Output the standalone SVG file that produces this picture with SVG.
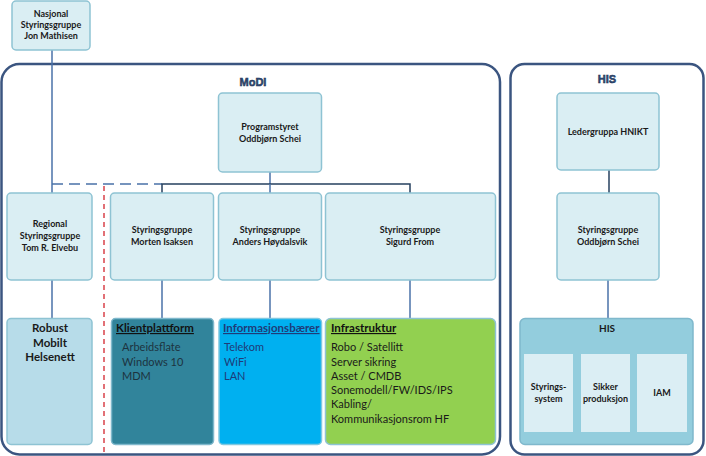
<svg xmlns="http://www.w3.org/2000/svg" width="706" height="456" viewBox="0 0 706 456">
<defs>
<style>
.node{fill:#daeef3;stroke:#8ec3d3;stroke-width:1.5}
.shadow{fill:none;stroke:#3a4a5a;stroke-width:1;opacity:.5}
.cont{fill:none;stroke:#3b5580;stroke-width:2.5}
.t{font-family:Lato,"Open Sans",sans-serif;font-size:9px;font-weight:bold;fill:#1a1a1a;text-anchor:middle}
.ti{font-family:Lato,"Open Sans",sans-serif;font-size:11.5px;font-weight:bold;text-decoration:underline}
.it{font-family:Lato,"Open Sans",sans-serif;font-size:11px}
.lbl{font-family:"Liberation Sans",Arial,sans-serif;font-size:11px;font-weight:bold;fill:#2f4f80;stroke:#1c2e4a;stroke-width:.5;text-anchor:middle}
.c{fill:none;stroke:#4a72a8;stroke-width:1.5}
.cd{fill:none;stroke:#26405f;stroke-width:1.5}
</style>
</defs>

<g id="containers">
<rect id="modi-container" class="cont" x="1.5" y="64" width="498.5" height="390.5" rx="18"/>
<rect id="his-container" class="cont" x="510.5" y="64" width="193" height="390.5" rx="14"/>
<text class="lbl" x="253" y="86">MoDI</text>
<text class="lbl" x="607" y="83">HIS</text>
</g>

<g id="connectors">
<line class="c" x1="52" y1="50" x2="52" y2="193"/>
<line class="c" x1="52" y1="184" x2="162" y2="184" stroke-dasharray="11 6" stroke-width="2"/>
<line class="c" x1="270" y1="172" x2="270" y2="184"/>
<polyline class="cd" points="162,193 162,184 410,184 410,193"/>
<line class="c" x1="270" y1="184" x2="270" y2="193"/>
<line class="cd" x1="609" y1="170" x2="609" y2="193"/>
<line class="c" x1="52" y1="280" x2="52" y2="318"/>
<line class="c" x1="162" y1="280" x2="162" y2="318"/>
<line class="c" x1="270" y1="280" x2="270" y2="318"/>
<line class="c" x1="410" y1="280" x2="410" y2="318"/>
<line class="c" x1="608" y1="280" x2="608" y2="318"/>
<line x1="104" y1="186" x2="104" y2="456" stroke="#d9414a" stroke-width="1.5" stroke-dasharray="5 4"/>
</g>

<g id="nasjonal">
<rect class="node" x="12" y="1" width="78" height="49" rx="4"/>
<text class="t" x="51" y="17">Nasjonal</text>
<text class="t" x="51" y="28">Styringsgruppe</text>
<text class="t" x="51" y="39">Jon Mathisen</text>
</g>

<g id="programstyret">
<rect class="node" x="218.5" y="93" width="103" height="79" rx="4"/>
<text class="t" x="270" y="130">Programstyret</text>
<text class="t" x="270" y="142">Oddbjørn Schei</text>
</g>

<g id="ledergruppa">
<rect class="node" x="557" y="93" width="102" height="77" rx="4"/>
<text class="t" x="608" y="135">Ledergruppa HNIKT</text>
</g>

<g id="regional">
<rect class="node" x="7" y="193" width="85" height="87" rx="4"/>
<text class="t" x="50" y="227">Regional</text>
<text class="t" x="50" y="239">Styringsgruppe</text>
<text class="t" x="50" y="251">Tom R. Elvebu</text>
</g>

<g id="morten">
<rect class="node" x="110.5" y="193" width="103" height="87" rx="4"/>
<text class="t" x="162" y="233">Styringsgruppe</text>
<text class="t" x="162" y="245">Morten Isaksen</text>
</g>

<g id="anders">
<rect class="node" x="218.5" y="193" width="103" height="87" rx="4"/>
<text class="t" x="270" y="233">Styringsgruppe</text>
<text class="t" x="270" y="245">Anders Høydalsvik</text>
</g>

<g id="sigurd">
<rect class="node" x="325.5" y="193" width="170" height="87" rx="4"/>
<text class="t" x="410" y="233">Styringsgruppe</text>
<text class="t" x="410" y="245">Sigurd From</text>
</g>

<g id="his-styring">
<rect class="node" x="557" y="193" width="102" height="87" rx="4"/>
<text class="t" x="608" y="233">Styringsgruppe</text>
<text class="t" x="608" y="245">Oddbjørn Schei</text>
</g>

<g id="robust">
<rect x="7" y="318.5" width="85" height="126" rx="4" fill="#b7dce9" stroke="#8ec3d3" stroke-width="1.5"/>
<text class="t" x="50" y="332" style="font-size:11.5px">Robust</text>
<text class="t" x="50" y="347" style="font-size:11.5px">Mobilt</text>
<text class="t" x="50" y="361" style="font-size:11.5px">Helsenett</text>
</g>

<g id="klientplattform">
<rect x="111.5" y="318.5" width="102" height="126" rx="4" fill="#31849b" stroke="#7fb8cc" stroke-width="1.5"/>
<text class="ti" x="116" y="332" fill="#111">Klientplattform</text>
<text class="it" x="122" y="351" fill="#1d3340">Arbeidsflate</text>
<text class="it" x="122" y="366" fill="#1d3340">Windows 10</text>
<text class="it" x="122" y="380" fill="#1d3340">MDM</text>
</g>

<g id="informasjonsbaerer">
<rect x="219" y="318.5" width="102.5" height="126" rx="4" fill="#00b0f0" stroke="#7fc8e0" stroke-width="1.5"/>
<text class="ti" x="223" y="332" fill="#1f3b78">Informasjonsbærer</text>
<text class="it" x="224" y="351" fill="#1f3b78">Telekom</text>
<text class="it" x="224" y="366" fill="#1f3b78">WiFi</text>
<text class="it" x="224" y="380" fill="#1f3b78">LAN</text>
</g>

<g id="infrastruktur">
<rect x="325.5" y="318.5" width="170" height="126" rx="5" fill="#92d050" stroke="#8ec3d3" stroke-width="1.5"/>
<text class="ti" x="331" y="332" fill="#111">Infrastruktur</text>
<text class="it" x="331" y="351" fill="#1a1a1a">Robo / Satellitt</text>
<text class="it" x="331" y="366" fill="#1a1a1a">Server sikring</text>
<text class="it" x="331" y="380" fill="#1a1a1a">Asset / CMDB</text>
<text class="it" x="331" y="394" fill="#1a1a1a">Sonemodell/FW/IDS/IPS</text>
<text class="it" x="331" y="408" fill="#1a1a1a">Kabling/</text>
<text class="it" x="331" y="423" fill="#1a1a1a">Kommunikasjonsrom HF</text>
</g>

<g id="his-box">
<rect x="520" y="318.5" width="173" height="126" rx="5" fill="#93cddd" stroke="#7fb8cc" stroke-width="1.5"/>
<text class="t" x="607" y="332" style="font-size:10px">HIS</text>
</g>
<g id="styringssystem">
<rect x="524" y="354" width="49" height="78" fill="#dbeef4"/>
<text class="t" x="548.5" y="390">Styrings-</text>
<text class="t" x="548.5" y="402">system</text>
</g>
<g id="sikker">
<rect x="581" y="354" width="49" height="78" fill="#dbeef4"/>
<text class="t" x="605.5" y="390">Sikker</text>
<text class="t" x="605.5" y="402">produksjon</text>
</g>
<g id="iam">
<rect x="637" y="354" width="50" height="78" fill="#dbeef4"/>
<text class="t" x="662" y="396">IAM</text>
</g>
</svg>
